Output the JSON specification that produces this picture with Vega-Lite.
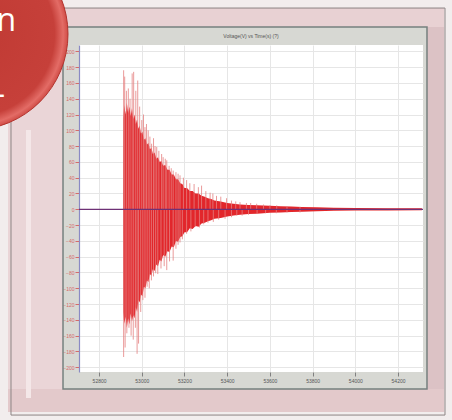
{
  "$schema": "https://vega.github.io/schema/vega-lite/v6.json",
  "width": 344,
  "height": 327,
  "autosize": "none",
  "padding": {"left": 79, "top": 45, "right": 29, "bottom": 48},
  "background": "#d7d8d3",
  "config": {
    "view": {"fill": "white", "stroke": null},
    "axisX": {"grid": true, "gridColor": "#e6e6e6", "domain": false, "tickColor": "#808080", "tickSize": 4, "labelFontSize": 5, "labelFont": "Liberation Sans", "labelColor": "#555555", "labelPadding": 2},
    "axisY": {"grid": true, "gridColor": "#e6e6e6", "domainColor": "#8a8ac4", "domainWidth": 1.2, "tickColor": "#d66a6a", "tickSize": 4, "labelFontSize": 5, "labelFont": "Liberation Sans", "labelColor": "#d66a6a", "labelPadding": 1}
  },
  "datasets": {
    "core": [
      {"t": 52912, "hi": 0, "lo": 0},
      {"t": 52913, "hi": 115, "lo": -130},
      {"t": 52918, "hi": 132, "lo": -145},
      {"t": 52924, "hi": 120, "lo": -136},
      {"t": 52930, "hi": 135, "lo": -150},
      {"t": 52936, "hi": 122, "lo": -138},
      {"t": 52942, "hi": 130, "lo": -146},
      {"t": 52948, "hi": 118, "lo": -132},
      {"t": 52954, "hi": 128, "lo": -142},
      {"t": 52960, "hi": 114, "lo": -134},
      {"t": 52966, "hi": 120, "lo": -138},
      {"t": 52972, "hi": 108, "lo": -124},
      {"t": 52978, "hi": 114, "lo": -130},
      {"t": 52984, "hi": 102, "lo": -115},
      {"t": 52990, "hi": 106, "lo": -118},
      {"t": 52996, "hi": 96, "lo": -108},
      {"t": 53003, "hi": 98, "lo": -110},
      {"t": 53010, "hi": 88, "lo": -98},
      {"t": 53017, "hi": 90, "lo": -100},
      {"t": 53024, "hi": 82, "lo": -90},
      {"t": 53031, "hi": 84, "lo": -92},
      {"t": 53038, "hi": 76, "lo": -82},
      {"t": 53045, "hi": 78, "lo": -84},
      {"t": 53052, "hi": 70, "lo": -76},
      {"t": 53060, "hi": 72, "lo": -78},
      {"t": 53068, "hi": 64, "lo": -70},
      {"t": 53076, "hi": 66, "lo": -72},
      {"t": 53084, "hi": 60, "lo": -64},
      {"t": 53092, "hi": 61, "lo": -66},
      {"t": 53100, "hi": 55, "lo": -58},
      {"t": 53110, "hi": 56, "lo": -60},
      {"t": 53120, "hi": 50, "lo": -53},
      {"t": 53130, "hi": 50, "lo": -54},
      {"t": 53140, "hi": 44, "lo": -47},
      {"t": 53150, "hi": 44, "lo": -48},
      {"t": 53160, "hi": 38, "lo": -40},
      {"t": 53170, "hi": 38, "lo": -41},
      {"t": 53180, "hi": 33, "lo": -35},
      {"t": 53190, "hi": 32, "lo": -34},
      {"t": 53200, "hi": 27, "lo": -29},
      {"t": 53212, "hi": 27, "lo": -29},
      {"t": 53225, "hi": 23, "lo": -24},
      {"t": 53238, "hi": 23, "lo": -25},
      {"t": 53252, "hi": 20, "lo": -21},
      {"t": 53266, "hi": 20, "lo": -22},
      {"t": 53280, "hi": 17, "lo": -18},
      {"t": 53295, "hi": 16, "lo": -17},
      {"t": 53310, "hi": 14, "lo": -15},
      {"t": 53325, "hi": 13, "lo": -14},
      {"t": 53340, "hi": 11, "lo": -12},
      {"t": 53370, "hi": 10, "lo": -11},
      {"t": 53400, "hi": 8, "lo": -9},
      {"t": 53430, "hi": 7, "lo": -8},
      {"t": 53460, "hi": 6, "lo": -7},
      {"t": 53500, "hi": 5.5, "lo": -6},
      {"t": 53540, "hi": 5, "lo": -5.5},
      {"t": 53600, "hi": 4.5, "lo": -4.5},
      {"t": 53650, "hi": 4, "lo": -4},
      {"t": 53700, "hi": 3.5, "lo": -3.5},
      {"t": 53750, "hi": 3, "lo": -3},
      {"t": 53820, "hi": 2.5, "lo": -2.5},
      {"t": 53900, "hi": 2, "lo": -2},
      {"t": 54000, "hi": 1.6, "lo": -1.6},
      {"t": 54150, "hi": 1.4, "lo": -1.4},
      {"t": 54312, "hi": 1.2, "lo": -1.2}
    ],
    "spikes": [
      {"t": 52915, "v": 176}, {"t": 52920, "v": 168}, {"t": 52928, "v": 150}, {"t": 52937, "v": 153},
      {"t": 52945, "v": 140}, {"t": 52955, "v": 172}, {"t": 52962, "v": 174}, {"t": 52972, "v": 150},
      {"t": 52981, "v": 163}, {"t": 52990, "v": 130}, {"t": 53000, "v": 113}, {"t": 53008, "v": 120},
      {"t": 53015, "v": 104}, {"t": 53022, "v": 108}, {"t": 53030, "v": 100}, {"t": 53038, "v": 92},
      {"t": 53046, "v": 83}, {"t": 53055, "v": 90}, {"t": 53062, "v": 80}, {"t": 53070, "v": 79},
      {"t": 53080, "v": 74}, {"t": 53093, "v": 70}, {"t": 53100, "v": 66}, {"t": 53110, "v": 64},
      {"t": 53117, "v": 62}, {"t": 53128, "v": 55}, {"t": 53138, "v": 52}, {"t": 53147, "v": 49},
      {"t": 53160, "v": 47}, {"t": 53170, "v": 45}, {"t": 53179, "v": 43}, {"t": 53195, "v": 40},
      {"t": 53210, "v": 37}, {"t": 53225, "v": 33}, {"t": 53245, "v": 32}, {"t": 53265, "v": 28},
      {"t": 53280, "v": 30}, {"t": 53300, "v": 23}, {"t": 53320, "v": 21}, {"t": 53333, "v": 20},
      {"t": 53350, "v": 17}, {"t": 53370, "v": 16}, {"t": 53397, "v": 14}, {"t": 53420, "v": 11},
      {"t": 53440, "v": 10}, {"t": 53460, "v": 9}, {"t": 53490, "v": 8}, {"t": 53510, "v": 8},
      {"t": 53538, "v": 7}, {"t": 53570, "v": 6}, {"t": 53600, "v": 5}, {"t": 53632, "v": 5},
      {"t": 53680, "v": 4}, {"t": 53741, "v": 3},
      {"t": 52915, "v": -187}, {"t": 52922, "v": -175}, {"t": 52930, "v": -157}, {"t": 52940, "v": -150},
      {"t": 52950, "v": -160}, {"t": 52960, "v": -165}, {"t": 52970, "v": -150}, {"t": 52978, "v": -183},
      {"t": 52985, "v": -170}, {"t": 52995, "v": -130}, {"t": 53005, "v": -115}, {"t": 53015, "v": -112},
      {"t": 53025, "v": -98}, {"t": 53035, "v": -100}, {"t": 53045, "v": -90}, {"t": 53055, "v": -85},
      {"t": 53065, "v": -81}, {"t": 53075, "v": -82}, {"t": 53090, "v": -75}, {"t": 53105, "v": -72},
      {"t": 53117, "v": -77}, {"t": 53130, "v": -66}, {"t": 53147, "v": -65}, {"t": 53160, "v": -50},
      {"t": 53170, "v": -45}, {"t": 53179, "v": -42}, {"t": 53190, "v": -38}, {"t": 53210, "v": -31},
      {"t": 53230, "v": -28}, {"t": 53250, "v": -22}, {"t": 53270, "v": -23}, {"t": 53290, "v": -19},
      {"t": 53310, "v": -17}, {"t": 53335, "v": -16}, {"t": 53360, "v": -13}, {"t": 53390, "v": -12},
      {"t": 53420, "v": -10}, {"t": 53445, "v": -8}, {"t": 53470, "v": -8}, {"t": 53500, "v": -7},
      {"t": 53540, "v": -6}, {"t": 53580, "v": -5}, {"t": 53630, "v": -5}, {"t": 53680, "v": -4},
      {"t": 53741, "v": -4}
    ]
  },
  "layer": [
    {
      "data": {"name": "core"},
      "mark": {"type": "area", "color": "#e2262b", "opacity": 1, "interpolate": "linear"},
      "encoding": {
        "x": {"field": "t", "type": "quantitative", "scale": {"domain": [52706, 54317], "nice": false, "zero": false},
          "axis": {"title": null, "values": [52800, 53000, 53200, 53400, 53600, 53800, 54000, 54200], "tickCount": 20, "format": "d"}},
        "y": {"field": "hi", "type": "quantitative", "scale": {"domain": [-206, 208], "nice": false, "zero": false},
          "axis": {"title": null, "values": [-200, -180, -160, -140, -120, -100, -80, -60, -40, -20, 0, 20, 40, 60, 80, 100, 120, 140, 160, 180, 200], "tickCount": 40, "labelOverlap": false, "format": "d"}},
        "y2": {"field": "lo"}
      }
    },
    {
      "data": {"name": "spikes"},
      "mark": {"type": "rule", "color": "#e48080", "strokeWidth": 0.8},
      "encoding": {
        "x": {"field": "t", "type": "quantitative", "axis": {"title": null}},
        "y": {"field": "v", "type": "quantitative", "axis": {"title": null}},
        "y2": {"datum": 0}
      }
    },
    {
      "data": {"values": [{}]},
      "mark": {"type": "rule", "color": "#6e3176", "strokeWidth": 1.3},
      "encoding": {
        "y": {"datum": 0, "type": "quantitative", "axis": {"title": null}}
      }
    },
    {
      "data": {"values": [{}]},
      "mark": {"type": "rect", "color": "#e8d1d3"},
      "encoding": {
        "x": {"datum": 52336, "type": "quantitative", "axis": {"title": null}},
        "x2": {"datum": 54453},
        "y": {"datum": 230.8, "type": "quantitative", "axis": {"title": null}},
        "y2": {"datum": 265}
      }
    },
    {
      "data": {"values": [{}]},
      "mark": {"type": "rect", "color": "#e3c9cb"},
      "encoding": {
        "x": {"datum": 52336, "type": "quantitative", "axis": {"title": null}},
        "x2": {"datum": 54453},
        "y": {"datum": -266.8, "type": "quantitative", "axis": {"title": null}},
        "y2": {"datum": -227.5}
      }
    },
    {
      "data": {"values": [{}]},
      "mark": {"type": "rect", "color": "#ead5d7"},
      "encoding": {
        "x": {"datum": 52336, "type": "quantitative", "axis": {"title": null}},
        "x2": {"datum": 52631.1},
        "y": {"datum": -227.5, "type": "quantitative", "axis": {"title": null}},
        "y2": {"datum": 230.8}
      }
    },
    {
      "data": {"values": [{}]},
      "mark": {"type": "rect", "color": "#f4e7e8"},
      "encoding": {
        "x": {"datum": 52457.8, "type": "quantitative", "axis": {"title": null}},
        "x2": {"datum": 52481.2},
        "y": {"datum": -238.9, "type": "quantitative", "axis": {"title": null}},
        "y2": {"datum": 100.4}
      }
    },
    {
      "data": {"values": [{}]},
      "mark": {"type": "rect", "color": "#dcc2c5"},
      "encoding": {
        "x": {"datum": 54335.7, "type": "quantitative", "axis": {"title": null}},
        "x2": {"datum": 54453},
        "y": {"datum": -227.5, "type": "quantitative", "axis": {"title": null}},
        "y2": {"datum": 230.8}
      }
    },
    {
      "data": {"values": [{}]},
      "mark": {"type": "rect", "fill": null, "filled": false, "stroke": "#f2eded", "strokeWidth": 16},
      "encoding": {
        "x": {"datum": 52336, "type": "quantitative", "axis": {"title": null}},
        "x2": {"datum": 54453},
        "y": {"datum": -266.8, "type": "quantitative", "axis": {"title": null}},
        "y2": {"datum": 265}
      }
    },
    {
      "data": {"values": [{}]},
      "mark": {"type": "rect", "fill": null, "filled": false, "stroke": "#8c8484", "strokeWidth": 1},
      "encoding": {
        "x": {"datum": 52387.5, "type": "quantitative", "axis": {"title": null}},
        "x2": {"datum": 54420},
        "y": {"datum": -260.5, "type": "quantitative", "axis": {"title": null}},
        "y2": {"datum": 254.8}
      }
    },
    {
      "data": {"values": [{}]},
      "mark": {"type": "rect", "fill": null, "filled": false, "stroke": "#76807f", "strokeWidth": 1.5},
      "encoding": {
        "x": {"datum": 52631.1, "type": "quantitative", "axis": {"title": null}},
        "x2": {"datum": 54335.7},
        "y": {"datum": -227.5, "type": "quantitative", "axis": {"title": null}},
        "y2": {"datum": 230.8}
      }
    },
    {
      "data": {"values": [{}]},
      "mark": {
        "type": "point", "shape": "circle", "filled": true, "size": 36864, "opacity": 1,
        "fill": {"gradient": "radial", "stops": [
          {"offset": 0, "color": "#c03a33"},
          {"offset": 0.86, "color": "#c6403a"},
          {"offset": 0.95, "color": "#e36c66"},
          {"offset": 1, "color": "#d04c46"}
        ]},
        "stroke": "#b3342e", "strokeWidth": 1
      },
      "encoding": {
        "x": {"datum": 52204.9, "type": "quantitative", "axis": {"title": null}},
        "y": {"datum": 221.9, "type": "quantitative", "axis": {"title": null}}
      }
    },
    {
      "data": {"values": [{}]},
      "mark": {"type": "text", "text": "n", "font": "Open Sans", "fontSize": 32, "color": "white", "align": "right", "baseline": "alphabetic"},
      "encoding": {
        "x": {"datum": 52411, "type": "quantitative", "axis": {"title": null}},
        "y": {"datum": 225.7, "type": "quantitative", "axis": {"title": null}}
      }
    },
    {
      "data": {"values": [{}]},
      "mark": {"type": "text", "text": "-", "font": "Open Sans", "fontSize": 32, "color": "white", "align": "right", "baseline": "middle"},
      "encoding": {
        "x": {"datum": 52359.5, "type": "quantitative", "axis": {"title": null}},
        "y": {"datum": 144.7, "type": "quantitative", "axis": {"title": null}}
      }
    },
    {
      "data": {"values": [{}]},
      "mark": {"type": "text", "text": "Voltage(V) vs Time(s) (?)", "font": "Liberation Sans", "fontSize": 5, "color": "#555555", "align": "center", "baseline": "middle"},
      "encoding": {
        "x": {"datum": 53511.5, "type": "quantitative", "axis": {"title": null}},
        "y": {"datum": 219.4, "type": "quantitative", "axis": {"title": null}}
      }
    }
  ]
}
